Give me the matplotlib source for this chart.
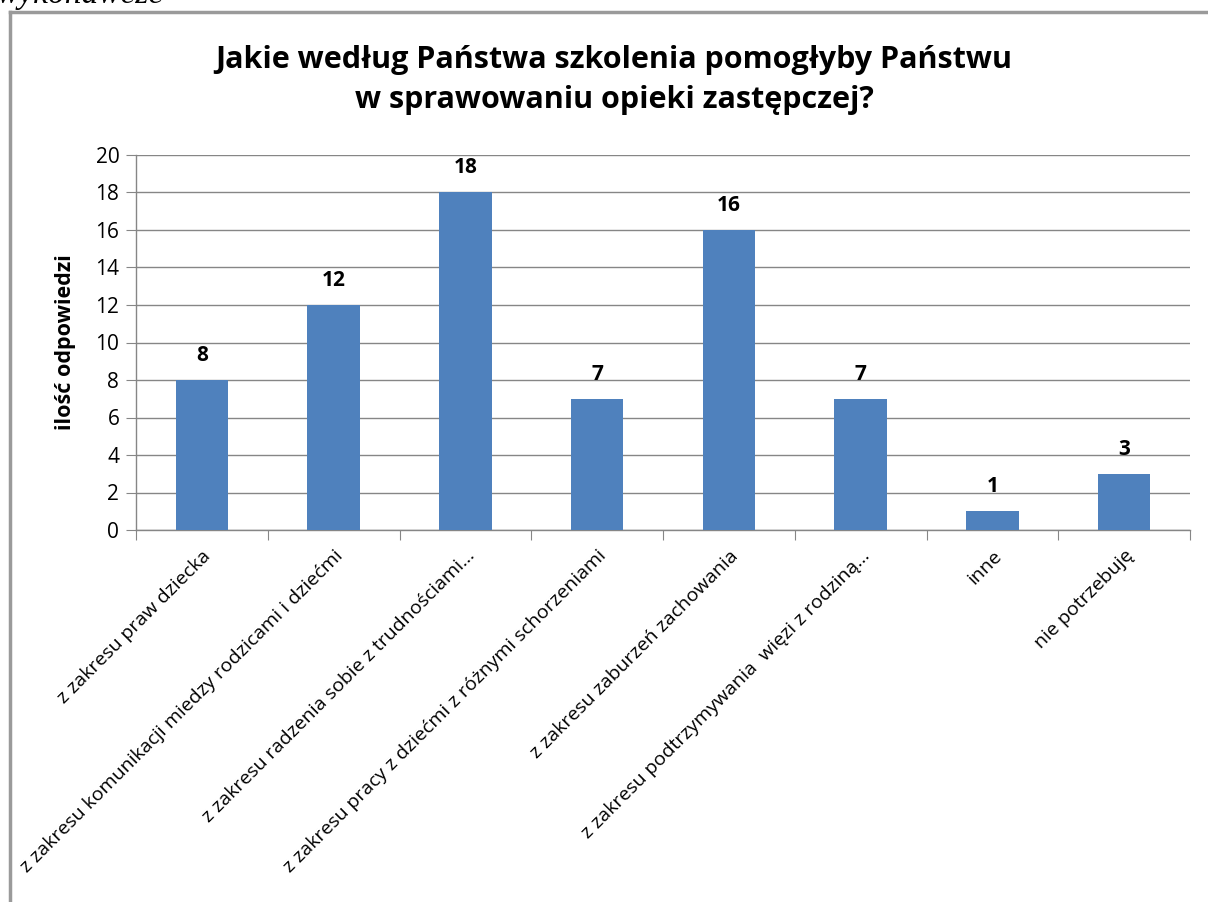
import matplotlib.pyplot as plt
from matplotlib.lines import Line2D

categories = [
    "z zakresu praw dziecka",
    "z zakresu komunikacji miedzy rodzicami i dziećmi",
    "z zakresu radzenia sobie z trudnościami…",
    "z zakresu pracy z dziećmi z różnymi schorzeniami",
    "z zakresu zaburzeń zachowania",
    "z zakresu podtrzymywania  więzi z rodziną…",
    "inne",
    "nie potrzebuję",
]
values = [8, 12, 18, 7, 16, 7, 1, 3]
yticks = [0, 2, 4, 6, 8, 10, 12, 14, 16, 18, 20]

W, H = 1208, 902
fig = plt.figure(figsize=(W / 100, H / 100), dpi=100)
plt.rcParams['font.family'] = ['Open Sans', 'DejaVu Sans']

# axes placement in pixels
left, right, top, bottom = 136, 1190, 155, 530
ax = fig.add_axes([left / W, 1 - bottom / H, (right - left) / W, (bottom - top) / H])

grid_c = '#868686'
x = list(range(len(categories)))
ax.bar(x, values, width=0.40, color='#4F81BD', zorder=3)
for xi, v in zip(x, values):
    ax.text(xi, v + 0.75, str(v), ha='center', va='bottom', fontsize=15,
            fontweight='bold', color='black')

ax.set_xlim(-0.5, len(categories) - 0.5)
ax.set_ylim(0, 20)
ax.set_yticks(yticks)
ax.set_yticklabels([str(t) for t in yticks], fontsize=15)
ax.yaxis.grid(True, color=grid_c, linewidth=1, zorder=0)
ax.set_axisbelow(True)

# category ticks at boundaries, labels at centers
ax.set_xticks([i - 0.5 for i in range(len(categories) + 1)])
ax.set_xticklabels([])
ax.set_xticks(x, minor=True)
ax.set_xticklabels(categories, minor=True, rotation=45, ha='right',
                   rotation_mode='anchor', fontsize=14)
ax.tick_params(axis='x', which='minor', length=0, pad=12)
ax.tick_params(axis='x', which='major', length=7, color=grid_c, direction='out')
ax.tick_params(axis='y', length=7, color=grid_c, direction='out', pad=5)

for s in ['top', 'right']:
    ax.spines[s].set_visible(False)
for s in ['left', 'bottom']:
    ax.spines[s].set_color(grid_c)
    ax.spines[s].set_linewidth(1)

ax.set_ylabel("ilość odpowiedzi", fontsize=15.5, fontweight='bold', labelpad=14)

fig.text(614 / W, 1 - 80 / H,
         "Jakie według Państwa szkolenia pomogłyby Państwu\nw sprawowaniu opieki zastępczej?",
         ha='center', va='center', fontsize=22, fontweight='bold', linespacing=1.42)

# outer chart frame (left and top edges visible)
fig.add_artist(Line2D([10 / W, 10 / W], [0, 1 - 12 / H], color='#9a9a9a', linewidth=2.5,
                      transform=fig.transFigure))
fig.add_artist(Line2D([10 / W, 1], [1 - 12 / H, 1 - 12 / H], color='#9a9a9a', linewidth=2.5,
                      transform=fig.transFigure))

# clipped caption text at the very top of the page
fig.text(-4 / W, 1 - 3 / H, "wykonawcze", fontsize=24, style='italic',
         family='Liberation Serif', ha='left', va='baseline')

fig.savefig('out.png', dpi=100)
